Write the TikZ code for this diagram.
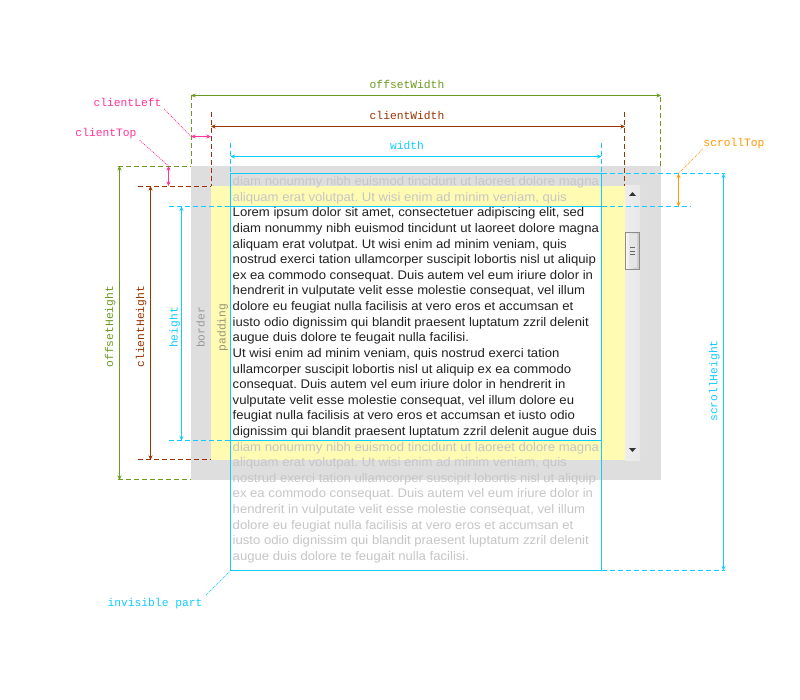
\documentclass[tikz,border=0pt]{standalone}
\usepackage{fontspec}
\setmainfont{Liberation Sans}
\newfontfamily\bodyf[FakeStretch=1.05]{Liberation Sans}
\newfontfamily\monof{Liberation Mono}
\usetikzlibrary{arrows.meta}
\frenchspacing
\definecolor{offc}{HTML}{6B9B1E}
\definecolor{clic}{HTML}{993300}
\definecolor{cyanc}{HTML}{11CCFF}
\definecolor{pinkc}{HTML}{FF3399}
\definecolor{orac}{HTML}{FF9900}
\definecolor{bordc}{HTML}{DEDEDE}
\definecolor{padc}{HTML}{FFFBB2}
\definecolor{darkt}{HTML}{222222}
\definecolor{lightt}{HTML}{C6C6C6}
\tikzset{
  dim/.style={line width=1pt, {Stealth[length=4.5pt,width=4pt]}-{Stealth[length=4.5pt,width=4pt]}},
  ext/.style={line width=1pt, dash pattern=on 5pt off 3pt},
  lbl/.style={font=\monof\fontsize{11.3}{13}\selectfont, inner sep=0pt},
  lead/.style={line width=0.7pt, dash pattern=on 1pt off 1pt},
  txt/.style={anchor=base west, inner sep=0pt, font=\bodyf\fontsize{12.5}{14}\selectfont},
}
\begin{document}
\begin{tikzpicture}[x=1pt,y=-1pt]
\useasboundingbox[fill=white] (0,0) rectangle (800,700);
% key points (fills)
\coordinate (bTL) at (191,166); \coordinate (bBR) at (661,480);
\coordinate (pTL) at (211,186); \coordinate (pBR) at (625,460);
% key points (strokes, pixel centred)
\coordinate (cTL) at (230.5,206.5); \coordinate (cBR) at (601.5,440.5);
\coordinate (sTL) at (230.5,173.5); \coordinate (sBR) at (601.5,570.5);
% boxes
\fill[bordc] (bTL) rectangle (bBR);
\fill[padc] (pTL) rectangle (pBR);
\fill[left color=white!93!black, right color=white!91!black] (625,186) rectangle (640,460);
\fill[black!80] (629,196) -- (636,196) -- (632.5,192) -- cycle;
\fill[black!80] (629,448) -- (636,448) -- (632.5,452) -- cycle;
\draw[black!45, line width=0.8pt, left color=white!97!black, right color=white!78!black] (625.5,232.5) rectangle (639.5,269.5);
\fill[white!90!black] (628.5,234) rectangle (636.5,267.5);
\draw[black!60, line width=0.9pt] (630,247.5) -- (635,247.5) (630,251) -- (635,251) (630,254.5) -- (635,254.5);
\fill[white] (cTL) rectangle (cBR);
\draw[cyanc, line width=1pt] (sTL) rectangle (sBR);
\draw[cyanc, line width=1pt] (cTL) rectangle (cBR);
% text
\foreach \t [count=\i] in {
 {diam nonummy nibh euismod tincidunt ut laoreet dolore magna},
 {aliquam erat volutpat. Ut wisi enim ad minim veniam, quis}}
 \node[txt, text=lightt] (ln\i) at (232.5,{185.8+(\i-1)*15.6}) {\t};
\foreach \t [count=\i from 3] in {
 {Lorem ipsum dolor sit amet, consectetuer adipiscing elit, sed},
 {diam nonummy nibh euismod tincidunt ut laoreet dolore magna},
 {aliquam erat volutpat. Ut wisi enim ad minim veniam, quis},
 {nostrud exerci tation ullamcorper suscipit lobortis nisl ut aliquip},
 {ex ea commodo consequat. Duis autem vel eum iriure dolor in},
 {hendrerit in vulputate velit esse molestie consequat, vel illum},
 {dolore eu feugiat nulla facilisis at vero eros et accumsan et},
 {iusto odio dignissim qui blandit praesent luptatum zzril delenit},
 {augue duis dolore te feugait nulla facilisi.},
 {Ut wisi enim ad minim veniam, quis nostrud exerci tation},
 {ullamcorper suscipit lobortis nisl ut aliquip ex ea commodo},
 {consequat. Duis autem vel eum iriure dolor in hendrerit in},
 {vulputate velit esse molestie consequat, vel illum dolore eu},
 {feugiat nulla facilisis at vero eros et accumsan et iusto odio},
 {dignissim qui blandit praesent luptatum zzril delenit augue duis}}
 \node[txt, text=darkt] (ln\i) at (232.5,{185.8+(\i-1)*15.6}) {\t};
\foreach \t [count=\i from 18] in {
 {diam nonummy nibh euismod tincidunt ut laoreet dolore magna},
 {aliquam erat volutpat. Ut wisi enim ad minim veniam, quis},
 {nostrud exerci tation ullamcorper suscipit lobortis nisl ut aliquip},
 {ex ea commodo consequat. Duis autem vel eum iriure dolor in},
 {hendrerit in vulputate velit esse molestie consequat, vel illum},
 {dolore eu feugiat nulla facilisis at vero eros et accumsan et},
 {iusto odio dignissim qui blandit praesent luptatum zzril delenit},
 {augue duis dolore te feugait nulla facilisi.}}
 \node[txt, text=lightt] (ln\i) at (232.5,{185.8+(\i-1)*15.6}) {\t};
% ---- offsetWidth / clientWidth / width
\coordinate (ow1) at (191,95.5); \coordinate (ow2) at (661,95.5);
\coordinate (cw1) at (211,126.5); \coordinate (cw2) at (625,126.5);
\coordinate (w1) at (230.5,156.5); \coordinate (w2) at (601.5,156.5);
\draw[ext,offc] (191.5,95.5) -- (191.5,166);
\draw[ext,offc] (660.5,97) -- (660.5,166);
\draw[ext,clic] (211.5,112.5) -- (211.5,186);
\draw[ext,clic] (624.5,112.5) -- (624.5,186);
\draw[ext,cyanc] (230.5,143) -- (sTL);
\draw[ext,cyanc] (601.5,143) -- (601.5,173.5);
\draw[dim,offc] (ow1) -- (ow2);
\draw[dim,clic] (cw1) -- (cw2);
\draw[dim,cyanc] (w1) -- (w2);
\node[lbl,text=offc] (owl) at (407,84) {offsetWidth};
\node[lbl,text=clic] (cwl) at (407,115) {clientWidth};
\node[lbl,text=cyanc] (wl) at (407,145) {width};
% ---- left extension lines
\draw[ext,offc] (118,166.5) -- (191,166.5);
\draw[ext,offc] (118,479.5) -- (191,479.5);
\draw[ext,clic] (138,186.5) -- (211,186.5);
\draw[ext,clic] (138,459.5) -- (211,459.5);
\draw[ext,cyanc] (169,206.5) -- (cTL);
\draw[ext,cyanc] (169,440.5) -- (230.5,440.5);
% ---- heights
\coordinate (oh1) at (119.5,166); \coordinate (oh2) at (119.5,480);
\coordinate (ch1) at (150.5,186); \coordinate (ch2) at (150.5,460);
\coordinate (h1) at (181.5,206.5); \coordinate (h2) at (181.5,440.5);
\draw[dim,offc] (oh1) -- (oh2);
\draw[dim,clic] (ch1) -- (ch2);
\draw[dim,cyanc] (h1) -- (h2);
\node[lbl,text=offc,rotate=90] (ohl) at (110.3,326.7) {offsetHeight};
\node[lbl,text=clic,rotate=90] (chl) at (141.3,326.7) {clientHeight};
\node[lbl,text=cyanc,rotate=90] (hl) at (174.7,327.5) {height};
\node[lbl,text=black!40,rotate=90] (bdl) at (200.5,327.5) {border};
\node[lbl,text=black!35!padc!60!gray,rotate=90] (pdl) at (222.8,327.5) {padding};
% ---- clientLeft / clientTop
\coordinate (cl1) at (191,136.5); \coordinate (cl2) at (211,136.5);
\coordinate (ct1) at (168.5,166); \coordinate (ct2) at (168.5,186);
\draw[dim,pinkc] (cl1) -- (cl2);
\draw[dim,pinkc] (ct1) -- (ct2);
\node[lbl,text=pinkc] (cll) at (127.5,102.5) {clientLeft};
\node[lbl,text=pinkc] (ctl) at (106,133.8) {clientTop};
\draw[lead,pinkc] (cll.south east) ++(2.5,2) -- (cl1);
\draw[lead,pinkc] (ctl.south east) ++(3,1) -- (ct1);
% ---- right side: scrollTop / scrollHeight
\coordinate (st1) at (678.5,173.5); \coordinate (st2) at (678.5,206.5);
\coordinate (sh1) at (723.5,173.5); \coordinate (sh2) at (723.5,570.5);
\draw[ext,cyanc] (601.5,173.5) -- (725,173.5);
\draw[ext,cyanc] (601.5,206.5) -- (690,206.5);
\draw[ext,cyanc] (sBR) -- (725,570.5);
\draw[dim,orac] (st1) -- (st2);
\draw[dim,cyanc] (sh1) -- (sh2);
\node[lbl,text=orac] (stl) at (734,143.8) {scrollTop};
\draw[lead,orac] (702.7,149) -- (st1);
\node[lbl,text=cyanc,rotate=90] (shl) at (714.5,381) {scrollHeight};
% ---- invisible part
\coordinate (inv) at (230.5,570.5);
\node[lbl,text=cyanc] (invl) at (155,603.8) {invisible part};
\draw[lead,cyanc] (206,595) -- (inv);
\end{tikzpicture}
\end{document}
